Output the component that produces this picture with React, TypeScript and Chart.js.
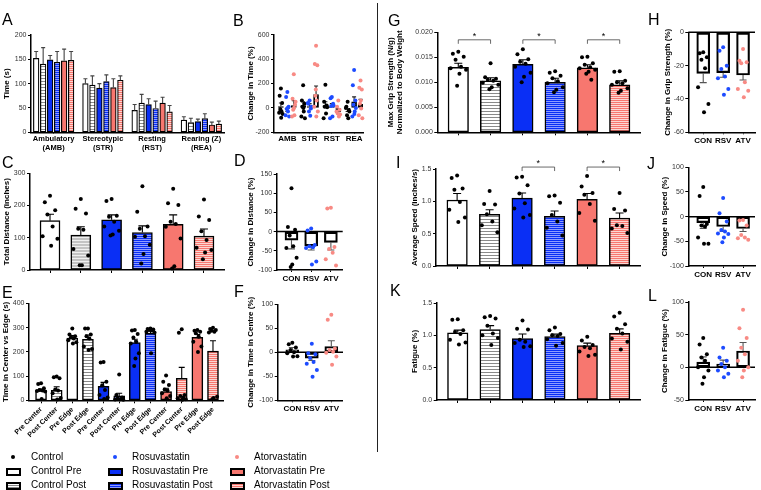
import React, { useEffect, useRef } from 'react';
import { Chart, registerables } from 'chart.js';
Chart.register(...registerables);

const FONT = "'Liberation Sans', Arial, Helvetica, sans-serif";
const W = 761;
const H = 490;

// ---------- colours ----------
const BLUE = '#0a2ff5';
const BLUE_LIGHT = '#8f9cff';
const SALMON = '#f7776f';
const SALMON_LIGHT = '#fcd6d2';
const ROS_DOT = '#1d4bff';
const ATOR_DOT = '#f88a84';
const GREY_LINE = '#8a8a8a';

// ---------- data ----------
// A
const A_GROUPS = [['Ambulatory', '(AMB)'], ['Stereotypic', '(STR)'], ['Resting', '(RST)'], ['Rearing (Z)', '(REA)']];
const A_CTRL_PRE = [152, 100, 45, 25];
const A_CTRL_PRE_ERR = [14, 10, 12, 7];
const A_CTRL_POST = [140, 97, 60, 20];
const A_CTRL_POST_ERR = [34, 19, 18, 9];
const A_ROS_PRE = [149, 91, 57, 22];
const A_ROS_PRE_ERR = [9, 9, 12, 5];
const A_ROS_POST = [144, 104, 49, 28];
const A_ROS_POST_ERR = [22, 14, 15, 10];
const A_ATOR_PRE = [147, 92, 60, 15];
const A_ATOR_PRE_ERR = [24, 18, 12, 6];
const A_ATOR_POST = [148, 107, 42, 17];
const A_ATOR_POST_ERR = [18, 9, 13, 6];

// B
const B_CATS = ['AMB', 'STR', 'RST', 'REA'];
const B_CTRL_MEAN = [10, 20, 20, -10];
const B_CTRL_ERR = [30, 30, 30, 20];
const B_ROS_MEAN = [-5, 10, 10, 50];
const B_ROS_ERR = [25, 25, 25, 40];
const B_ATOR_MEAN = [20, 110, -30, 30];
const B_ATOR_ERR = [40, 70, 15, 40];
const B_CTRL_DOTS = [[160, 100, 40, -10, -30, -40, -50, -80, -20], [185, 60, 35, 10, -30, -70, -85, 0], [190, 50, 20, 10, -45, -85, 5], [50, 10, -20, -60, -85, 0, -30]];
const B_ROS_DOTS = [[130, 90, 10, -10, -30, -60, -70, 0], [60, 35, -5, -30, -65, 40, 10], [90, 80, 35, 15, -70, -85, 20], [310, 185, 60, 25, -30, -70, 0, -50]];
const B_ATOR_DOTS = [[275, 75, 25, -15, -60, -70, 50, 0], [510, 360, 350, 100, 60, 10, -30, -70, 150], [60, 10, -15, -45, -70, -30, -55], [225, 165, 150, 35, -5, -60, -85, 60]];

// C
const C_MEANS = [153, 108, 156, 116, 142, 105];
const C_ERR = [20, 26, 15, 21, 29, 22];
const C_DOTS = [
  [230, 210, 185, 172, 135, 105, 97, 75],
  [220, 190, 175, 128, 125, 65, 45, 15, 15],
  [220, 214, 168, 165, 150, 135, 122, 110, 107],
  [260, 181, 135, 128, 105, 103, 78, 50, 20],
  [252, 207, 202, 150, 143, 134, 98, 12, 5],
  [219, 166, 155, 120, 93, 69, 62, 54, 33],
];

// D
const GROUP3 = ['CON', 'RSV', 'ATV'];
const D_MEANS = [-22, -37, -28];
const D_ERR = [23, 11, 20];
const D_DOTS = [[113, 12, 5, -10, -38, -43, -68, -86, -92], [8, 3, -35, -38, -41, -43, -78, -86], [62, 60, -40, -45, -55, -72, -88]];

// E
const E_LABELS = ['Pre Center', 'Post Center', 'Pre Edge', 'Post Edge', 'Pre Center', 'Post Center', 'Pre Edge', 'Post Edge', 'Pre Center', 'Post Center', 'Pre Edge', 'Post Edge'];
const E_MEANS = [41, 41, 257, 252, 58, 18, 239, 277, 36, 91, 260, 203];
const E_ERR = [6, 15, 11, 18, 16, 11, 13, 11, 14, 45, 12, 43];
const E_DOTS = [
  [70, 67, 50, 43, 40, 38, 36, 5],
  [98, 95, 91, 45, 40, 29, 10, 3],
  [297, 272, 265, 260, 255, 248, 240, 235],
  [297, 297, 272, 265, 255, 222, 212, 208],
  [158, 156, 77, 62, 43, 22, 12, 5],
  [107, 22, 12, 8, 4, 3, 2],
  [290, 288, 274, 260, 242, 235, 194, 173, 142],
  [297, 295, 293, 290, 288, 283, 280, 194],
  [102, 77, 63, 45, 40, 29, 18, 8],
  [294, 279, 22, 18, 12, 8, 4, 2],
  [290, 287, 283, 277, 263, 242, 222, 200],
  [300, 295, 290, 287, 283, 280, 15, 10, 5],
];

// F
const F_MEANS = [5, -12, 12];
const F_ERR = [5, 5, 12];
const F_DOTS = [[20, 17, 10, 5, 0, -2, -8, -9], [18, -2, -4, -12, -20, -24, -37, -51], [78, 68, 8, 5, 1, -1, -9, -26]];

// G
const G_MEANS = [0.0130, 0.0103, 0.0136, 0.0100, 0.0129, 0.0095];
const G_ERR = [0.0008, 0.0006, 0.0009, 0.0008, 0.0006, 0.0008];
const G_DOTS = [
  [0.0161, 0.0157, 0.0151, 0.0145, 0.0131, 0.0128, 0.0125, 0.0117, 0.0093],
  [0.0138, 0.0110, 0.0107, 0.0105, 0.0103, 0.0099, 0.0095, 0.0090, 0.0086],
  [0.0166, 0.0156, 0.0146, 0.0141, 0.0137, 0.0131, 0.0119, 0.0111, 0.0100],
  [0.0122, 0.0119, 0.0113, 0.0108, 0.0102, 0.0098, 0.0090, 0.0085, 0.0080],
  [0.0151, 0.0150, 0.0138, 0.0135, 0.0130, 0.0128, 0.0125, 0.0121, 0.0117, 0.0105],
  [0.0122, 0.0121, 0.0103, 0.0100, 0.0098, 0.0095, 0.0088, 0.0083, 0.0079],
];
const G_BRACKETS = [[0, 1, 0.0185], [2, 3, 0.0185], [4, 5, 0.0185]];

// H
const H_MEANS = [-24.6, -24.2, -25.6];
const H_ERR = [5.6, 2.8, 3.0];
const H_DOTS = [[-12, -12.5, -15, -16.5, -21.5, -33, -43, -48], [-9, -11, -20, -22, -26.5, -27.5, -34, -37.5], [-10, -17, -18, -18.5, -30, -34, -35, -39]];

// I
const I_MEANS = [1.02, 0.80, 1.05, 0.77, 1.03, 0.74];
const I_ERR = [0.10, 0.07, 0.08, 0.08, 0.09, 0.08];
const I_DOTS = [
  [1.40, 1.36, 1.20, 1.18, 0.99, 0.87, 0.75, 0.68],
  [1.16, 0.96, 0.95, 0.80, 0.69, 0.63, 0.52],
  [1.38, 1.37, 1.25, 1.12, 0.97, 0.89, 0.79, 0.75],
  [1.09, 1.08, 0.98, 0.79, 0.69, 0.59, 0.47],
  [1.39, 1.23, 1.13, 1.10, 0.96, 0.82, 0.70],
  [1.13, 0.88, 0.86, 0.63, 0.62, 0.58, 0.51],
];
const I_BRACKETS = [[2, 3, 1.53], [4, 5, 1.53]];

// J
const J_MEANS = [-12, -20, -24];
const J_ERR = [12, 10, 6];
const J_DOTS = [[60, 42, -15, -18, -20, -42, -55, -55], [38, 7, -10, -27, -30, -34, -35, -42, -52], [-7, -8, -18, -37, -42, -44, -47]];

// K
const K_MEANS = [1.04, 1.09, 0.95, 0.98, 0.84, 1.03];
const K_ERR = [0.04, 0.06, 0.07, 0.04, 0.04, 0.07];
const K_DOTS = [
  [1.25, 1.24, 1.08, 1.05, 1.02, 0.93, 0.89, 0.86],
  [1.30, 1.28, 1.26, 1.15, 1.03, 1.00, 0.96, 0.85],
  [1.23, 1.10, 1.09, 0.93, 0.90, 0.88, 0.83, 0.82],
  [1.12, 1.08, 1.02, 1.00, 0.99, 0.94, 0.88, 0.84],
  [0.98, 0.92, 0.85, 0.82, 0.80, 0.75, 0.70, 0.68],
  [1.35, 1.29, 1.17, 1.10, 1.03, 0.95, 0.90, 0.78],
];

// L
const L_MEANS = [8, 5, 25];
const L_ERR = [8, 6, 13];
const L_DOTS = [[45, 35, 20, 15, 10, 0, -5, -15, -25], [30, 15, 10, 5, 0, -5, -10, -15], [88, 60, 45, 30, 20, 10, 0, -5, -15]];

// legend
const LEGEND_LABELS = [
  ['Control', 'Rosuvastatin', 'Atorvastatin'],
  ['Control Pre', 'Rosuvastatin Pre', 'Atorvastatin Pre'],
  ['Control Post', 'Rosuvastatin Post', 'Atorvastatin Post'],
];

// ---------- style constants ----------
const JITTER = [0, -0.7, 0.7, -0.35, 0.35, -1, 1, 0.15, -0.15, 0.5, -0.5];
const TITLE_SIZE = 8;
const TITLE_LH = TITLE_SIZE * 1.2;

interface Panel {
  x0: number; x1: number; yTop: number; yBot: number;
  titleX: number; title: string | string[];
  yMin: number; yMax: number; yStep: number; yDec: number;
  xMin: number; xMax: number;
  tickVals: number[]; tickLabels: (string | string[])[]; tickLen: number; rot?: number; xh: number; labelFont: number;
  barX: number[]; barY: number[]; barErr: number[]; barFill: any[]; barW: number; barBorder: number; cap: number; errColor: string;
  dots: { x: number; y: number }[]; dotColors: string[];
  zero?: boolean; brackets?: number[][];
}

function stripe(bg: string, line: string, period = 3) {
  const c = document.createElement('canvas');
  c.width = 4; c.height = period;
  const g = c.getContext('2d')!;
  g.fillStyle = bg; g.fillRect(0, 0, 4, period);
  g.fillStyle = line; g.fillRect(0, 0, 4, 1);
  return g.createPattern(c, 'repeat');
}

function spread(centers: number[], lists: number[][], half: number, colors: string[]) {
  const pts: { x: number; y: number }[] = [];
  const cols: string[] = [];
  lists.forEach((list, b) => list.forEach((v, k) => {
    pts.push({ x: centers[b] + JITTER[k % JITTER.length] * half, y: v });
    cols.push(colors[b]);
  }));
  return { pts, cols };
}

function buildPanels(): Panel[] {
  const ctrlPost = stripe('#ffffff', GREY_LINE);
  const ctrlPostGrey = stripe('#c4c4c4', '#f0f0f0');
  const rosPost = stripe(BLUE_LIGHT, BLUE, 2);
  const atorPost = stripe(SALMON_LIGHT, SALMON, 2);
  const six = [0, 1, 2, 3, 4, 5];
  const sixFill = ['#ffffff', ctrlPost, BLUE, rosPost, SALMON, atorPost];
  const black6 = six.map(() => '#000');
  const three = [0, 1, 2];
  const groupCols = ['#000', ROS_DOT, ATOR_DOT];
  const none = 'rgba(0,0,0,0)';

  // A
  const aX: number[] = []; const aY: number[] = []; const aE: number[] = []; const aF: any[] = [];
  const aSeries = [A_CTRL_PRE, A_CTRL_POST, A_ROS_PRE, A_ROS_POST, A_ATOR_PRE, A_ATOR_POST];
  const aErrs = [A_CTRL_PRE_ERR, A_CTRL_POST_ERR, A_ROS_PRE_ERR, A_ROS_POST_ERR, A_ATOR_PRE_ERR, A_ATOR_POST_ERR];
  A_GROUPS.forEach((_, g) => aSeries.forEach((s, k) => {
    aX.push(g + (k - 2.5) * 0.142); aY.push(s[g]); aE.push(aErrs[k][g]); aF.push(sixFill[k]);
  }));

  // B
  const bX: number[] = []; const bY: number[] = []; const bE: number[] = [];
  const bCenters: number[] = []; const bLists: number[][] = []; const bCols: string[] = [];
  const bm = [B_CTRL_MEAN, B_ROS_MEAN, B_ATOR_MEAN];
  const be = [B_CTRL_ERR, B_ROS_ERR, B_ATOR_ERR];
  const bd = [B_CTRL_DOTS, B_ROS_DOTS, B_ATOR_DOTS];
  B_CATS.forEach((_, g) => [0, 1, 2].forEach((k) => {
    const x = g + (k - 1) * 0.29;
    bX.push(x); bY.push(bm[k][g]); bE.push(be[k][g]);
    bCenters.push(x); bLists.push(bd[k][g]); bCols.push(groupCols[k]);
  }));
  const bDots = spread(bCenters, bLists, 0.08, bCols);

  const cDots = spread(six, C_DOTS, 0.24, black6);
  const dDots = spread(three, D_DOTS, 0.26, groupCols);
  const e12 = E_LABELS.map((_, i) => i);
  const eDots = spread(e12, E_DOTS, 0.26, e12.map(() => '#000'));
  const eFill = ['#ffffff', ctrlPost, '#ffffff', ctrlPost, BLUE, rosPost, BLUE, rosPost, SALMON, atorPost, SALMON, atorPost];
  const fDots = spread(three, F_DOTS, 0.26, groupCols);
  const gDots = spread(six, G_DOTS, 0.24, black6);
  const hDots = spread(three, H_DOTS, 0.26, groupCols);
  const iDots = spread(six, I_DOTS, 0.24, black6);
  const jDots = spread(three, J_DOTS, 0.26, groupCols);
  const kDots = spread(six, K_DOTS, 0.24, black6);
  const lDots = spread(three, L_DOTS, 0.26, groupCols);

  const small = (o: Partial<Panel>): Panel => ({
    xMin: -0.75, xMax: 2.6, tickVals: three, tickLabels: GROUP3, tickLen: 2, xh: 18, labelFont: 8,
    barX: three, barFill: [none, none, none], barW: 13, barBorder: 1.5, cap: 3.5, errColor: '#555', zero: true,
    ...o,
  } as Panel);
  const big = (o: Partial<Panel>): Panel => ({
    xMin: -0.65, xMax: 5.65, tickVals: six, tickLabels: six.map(() => ''), tickLen: 3, xh: 10, labelFont: 8,
    barX: six, barFill: sixFill, barW: 20.5, barBorder: 1.5, cap: 4, errColor: '#000',
    ...o,
  } as Panel);

  return [
    {
      x0: 31, x1: 224, yTop: 35, yBot: 132.3, titleX: 7, title: 'Time (s)',
      yMin: 0, yMax: 200, yStep: 50, yDec: 0, xMin: -0.46, xMax: 3.46,
      tickVals: [0, 1, 2, 3], tickLabels: A_GROUPS, tickLen: 0, xh: 25, labelFont: 7.5,
      barX: aX, barY: aY, barErr: aE, barFill: aF, barW: 5.6, barBorder: 1.2, cap: 2, errColor: '#444',
      dots: [], dotColors: [],
    },
    {
      x0: 274, x1: 363, yTop: 34.7, yBot: 132.3, titleX: 250.6, title: 'Change in Time (%)',
      yMin: -200, yMax: 600, yStep: 200, yDec: 0, xMin: -0.6, xMax: 3.4,
      tickVals: [0, 1, 2, 3], tickLabels: B_CATS, tickLen: 0, xh: 18, labelFont: 8,
      barX: bX, barY: bY, barErr: bE, barFill: bX.map(() => none), barW: 5, barBorder: 1.2, cap: 2, errColor: '#222',
      dots: bDots.pts, dotColors: bDots.cols,
    },
    big({
      x0: 30, x1: 224, yTop: 173.3, yBot: 270, titleX: 6.5, title: 'Total Distance (inches)',
      yMin: 0, yMax: 300, yStep: 100, yDec: 0, barY: C_MEANS, barErr: C_ERR, barW: 20,
      barFill: ['#ffffff', ctrlPostGrey, BLUE, rosPost, SALMON, atorPost],
      dots: cDots.pts, dotColors: cDots.cols,
    }),
    small({
      x0: 276.7, x1: 342.7, yTop: 174, yBot: 270, titleX: 251, title: 'Change in Distance (%)',
      yMin: -100, yMax: 150, yStep: 50, yDec: 0, barY: D_MEANS, barErr: D_ERR,
      dots: dDots.pts, dotColors: dDots.cols,
    }),
    {
      x0: 29, x1: 223.3, yTop: 303.5, yBot: 400.3, titleX: 6, title: 'Time in Center vs Edge (s)',
      yMin: 0, yMax: 400, yStep: 100, yDec: 0, xMin: -0.77, xMax: 11.66,
      tickVals: e12, tickLabels: E_LABELS, tickLen: 3, rot: 45, xh: 60, labelFont: 7,
      barX: e12, barY: E_MEANS, barErr: E_ERR, barFill: eFill, barW: 11, barBorder: 1.5, cap: 3, errColor: '#000',
      dots: eDots.pts, dotColors: eDots.cols,
    },
    small({
      x0: 277.7, x1: 343, yTop: 304.3, yBot: 400.3, titleX: 251, title: 'Change in Time in Centre (%)',
      yMin: -100, yMax: 100, yStep: 50, yDec: 0, barY: F_MEANS, barErr: F_ERR,
      dots: fDots.pts, dotColors: fDots.cols,
    }),
    big({
      x0: 437.3, x1: 640.7, yTop: 32.3, yBot: 132.3, titleX: 390.5, title: ['Max Grip Strength (N/g)', 'Normalized to Body Weight'],
      yMin: 0, yMax: 0.02, yStep: 0.005, yDec: 3, barY: G_MEANS, barErr: G_ERR,
      dots: gDots.pts, dotColors: gDots.cols, brackets: G_BRACKETS,
    }),
    small({
      x0: 688.3, x1: 755, yTop: 32.3, yBot: 132.3, titleX: 667.5, title: 'Change in Grip Strength (%)',
      yMin: -60, yMax: 0, yStep: 20, yDec: 0, barY: H_MEANS, barErr: H_ERR,
      dots: hDots.pts, dotColors: hDots.cols,
    }),
    big({
      x0: 436, x1: 640.7, yTop: 169, yBot: 266, titleX: 415, title: 'Average Speed (inches/s)',
      yMin: 0, yMax: 1.5, yStep: 0.5, yDec: 1, barY: I_MEANS, barErr: I_ERR,
      dots: iDots.pts, dotColors: iDots.cols, brackets: I_BRACKETS,
    }),
    small({
      x0: 688.3, x1: 755, yTop: 167.3, yBot: 266, titleX: 665, title: 'Change in Speed (%)',
      yMin: -100, yMax: 100, yStep: 50, yDec: 0, barY: J_MEANS, barErr: J_ERR,
      dots: jDots.pts, dotColors: jDots.cols,
    }),
    big({
      x0: 436.7, x1: 640.7, yTop: 303, yBot: 400, titleX: 415, title: 'Fatigue (%)',
      yMin: 0, yMax: 1.5, yStep: 0.5, yDec: 1, barY: K_MEANS, barErr: K_ERR,
      dots: kDots.pts, dotColors: kDots.cols,
    }),
    small({
      x0: 688.3, x1: 755, yTop: 302, yBot: 400, titleX: 665, title: 'Change in Fatigue (%)',
      yMin: -50, yMax: 100, yStep: 50, yDec: 0, barY: L_MEANS, barErr: L_ERR,
      dots: lDots.pts, dotColors: lDots.cols,
    }),
  ];
}

function createChart(canvas: HTMLCanvasElement, p: Panel) {
  const padLeft = p.titleX - TITLE_LH / 2;
  const extras = {
    id: 'extras',
    beforeDatasetsDraw(chart: any) {
      if (!p.zero) return;
      const { ctx, chartArea, scales } = chart;
      const yp = scales.y.getPixelForValue(0);
      ctx.save();
      ctx.strokeStyle = '#000'; ctx.lineWidth = 1.5;
      ctx.beginPath(); ctx.moveTo(chartArea.left, yp); ctx.lineTo(chartArea.right, yp); ctx.stroke();
      ctx.restore();
    },
    afterDatasetDraw(chart: any, args: any) {
      if (args.index !== 1) return;
      const { ctx, scales } = chart;
      const meta = chart.getDatasetMeta(1);
      ctx.save();
      ctx.strokeStyle = p.errColor; ctx.lineWidth = 1.1;
      meta.data.forEach((el: any, i: number) => {
        const v = p.barY[i]; const e = p.barErr[i];
        const dir = v < 0 ? -1 : 1;
        const y1 = scales.y.getPixelForValue(v);
        const y2 = scales.y.getPixelForValue(v + dir * e);
        ctx.beginPath();
        ctx.moveTo(el.x, y1); ctx.lineTo(el.x, y2);
        ctx.moveTo(el.x - p.cap, y2); ctx.lineTo(el.x + p.cap, y2);
        ctx.stroke();
      });
      ctx.restore();
    },
    afterDraw(chart: any) {
      if (!p.brackets) return;
      const { ctx, scales } = chart;
      ctx.save();
      ctx.strokeStyle = '#444'; ctx.lineWidth = 0.8; ctx.fillStyle = '#000';
      ctx.font = `9px ${FONT}`; ctx.textAlign = 'center'; ctx.textBaseline = 'bottom';
      p.brackets.forEach(([a, b, yv]) => {
        const xa = scales.x.getPixelForValue(a);
        const xb = scales.x.getPixelForValue(b);
        const yp = scales.y.getPixelForValue(yv);
        ctx.beginPath();
        ctx.moveTo(xa, yp + 4); ctx.lineTo(xa, yp); ctx.lineTo(xb, yp); ctx.lineTo(xb, yp + 4);
        ctx.stroke();
        ctx.fillText('*', (xa + xb) / 2, yp + 1);
      });
      ctx.restore();
    },
  };

  return new Chart(canvas, {
    type: 'bar',
    data: {
      datasets: [
        {
          type: 'scatter',
          data: p.dots,
          pointBackgroundColor: p.dotColors,
          pointBorderWidth: 0,
          pointRadius: 2,
          order: 0,
          clip: false,
        } as any,
        {
          type: 'bar',
          data: p.barX.map((x, i) => ({ x, y: p.barY[i] })),
          backgroundColor: p.barFill,
          borderColor: '#000',
          borderWidth: p.barBorder,
          borderSkipped: false,
          barThickness: p.barW,
          grouped: false,
          order: 1,
        } as any,
      ],
    },
    options: {
      responsive: false,
      animation: false,
      events: [],
      layout: { padding: { left: padLeft, top: p.yTop, right: W - p.x1, bottom: H - p.yBot - p.xh } },
      plugins: { legend: { display: false }, tooltip: { enabled: false } },
      scales: {
        x: {
          type: 'linear', min: p.xMin, max: p.xMax, offset: false,
          afterFit: (s: any) => { s.height = p.xh; },
          afterBuildTicks: (s: any) => { s.ticks = p.tickVals.map((v) => ({ value: v })); },
          ticks: {
            autoSkip: false, maxRotation: p.rot ?? 0, minRotation: p.rot ?? 0, padding: 2,
            color: '#000', font: { size: p.labelFont, weight: 'bold' },
            callback: (_v: any, i: number) => p.tickLabels[i] ?? '',
          },
          grid: { display: true, drawOnChartArea: false, drawTicks: true, tickLength: p.tickLen, color: '#000', lineWidth: 1, offset: false },
          border: { display: true, color: '#000', width: 1.5 },
        },
        y: {
          type: 'linear', min: p.yMin, max: p.yMax,
          afterFit: (s: any) => { s.width = p.x0 - padLeft; },
          ticks: {
            stepSize: p.yStep, padding: 1.5, color: '#333', font: { size: 7 },
            callback: (v: any) => Number(v).toFixed(p.yDec),
          },
          grid: { display: true, drawOnChartArea: false, drawTicks: true, tickLength: 3, color: '#000', lineWidth: 1 },
          border: { display: true, color: '#000', width: 1.5 },
          title: { display: true, text: p.title, padding: 0, color: '#000', font: { size: TITLE_SIZE, weight: 'bold' } },
        },
      },
    } as any,
    plugins: [extras],
  });
}

const LETTERS: [string, number, number][] = [
  ['A', 2, 11.5], ['B', 233, 12.5], ['C', 2, 155], ['D', 234, 153], ['E', 2, 285], ['F', 234, 284],
  ['G', 388, 13], ['H', 648, 11.5], ['I', 396, 155], ['J', 647, 156], ['K', 390, 283], ['L', 648, 288],
];

function Swatch({ bg }: { bg: string }) {
  return <div style={{ position: 'absolute', left: -7.5, top: -3.5, width: 11, height: 4, border: '2px solid #000', background: bg }} />;
}

export default function App() {
  const refs = useRef<(HTMLCanvasElement | null)[]>([]);
  useEffect(() => {
    Chart.defaults.font.family = FONT;
    const panels = buildPanels();
    const charts = panels.map((p, i) => createChart(refs.current[i]!, p));
    return () => charts.forEach((c) => c.destroy());
  }, []);

  const dotCols = ['#000', ROS_DOT, ATOR_DOT];
  const preBg = ['#fff', BLUE, SALMON];
  const postBg = [
    `repeating-linear-gradient(to bottom, #fff 0px, #fff 1px, ${GREY_LINE} 1px, ${GREY_LINE} 2px)`,
    `repeating-linear-gradient(to bottom, ${BLUE} 0px, ${BLUE} 1px, ${BLUE_LIGHT} 1px, ${BLUE_LIGHT} 2px)`,
    `repeating-linear-gradient(to bottom, ${SALMON} 0px, ${SALMON} 1px, ${SALMON_LIGHT} 1px, ${SALMON_LIGHT} 2px)`,
  ];
  const colMarker = [13, 115, 237];
  const colText = [31, 132, 254];
  const rowY = [457, 471, 485];

  return (
    <div style={{ position: 'absolute', left: 0, top: 0, width: W, height: H, background: '#fff', overflow: 'hidden', fontFamily: FONT }}>
      {Array.from({ length: 12 }).map((_, i) => (
        <canvas key={i} ref={(el) => { refs.current[i] = el; }} width={W} height={H} style={{ position: 'absolute', left: 0, top: 0 }} />
      ))}
      {LETTERS.map(([t, x, y]) => (
        <div key={t} style={{ position: 'absolute', left: x, top: y, fontSize: 16, lineHeight: '16px', color: '#000' }}>{t}</div>
      ))}
      <div style={{ position: 'absolute', left: 376.5, top: 3, width: 1.5, height: 449, background: '#222' }} />
      {LEGEND_LABELS.map((row, r) => row.map((label, c) => (
        <React.Fragment key={`${r}-${c}`}>
          <div style={{ position: 'absolute', left: colMarker[c], top: rowY[r] }}>
            {r === 0 ? (
              <div style={{ position: 'absolute', left: -2, top: -2, width: 4, height: 4, borderRadius: 2, background: dotCols[c] }} />
            ) : (
              <Swatch bg={r === 1 ? preBg[c] : postBg[c]} />
            )}
          </div>
          <div style={{ position: 'absolute', left: colText[c], top: rowY[r] - 6, fontSize: 10, lineHeight: '12px', color: '#000', whiteSpace: 'nowrap' }}>{label}</div>
        </React.Fragment>
      )))}
    </div>
  );
}
